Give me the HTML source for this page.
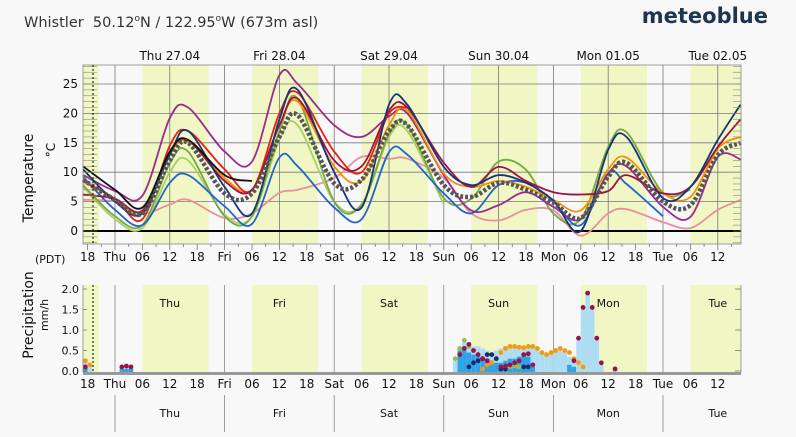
<!DOCTYPE html>
<html><head><meta charset="utf-8">
<style>
body{margin:0;background:#f8f8f8;width:796px;height:432px;overflow:hidden;font-family:"Liberation Sans","DejaVu Sans",sans-serif;}
svg text{font-family:"DejaVu Sans","Liberation Sans",sans-serif;}
</style></head><body>
<svg id="chart" width="796" height="432" xmlns="http://www.w3.org/2000/svg">
<text x="24" y="27" font-size="14.5" fill="#333">Whistler&#160; 50.12<tspan font-size="9" dy="-6">o</tspan><tspan dy="6">N / 122.95</tspan><tspan font-size="9" dy="-6">o</tspan><tspan dy="6">W (673m asl)</tspan></text>
<text x="768" y="23" font-size="21" font-weight="bold" fill="#1c3550" text-anchor="end">meteoblue</text>
<g id="g-bands"></g><g id="g-grid"></g><g id="g-precip"></g><g id="g-lines"></g><g id="g-axes"></g>
<text transform="translate(33,178) rotate(-90)" font-size="14" text-anchor="middle" fill="#111">Temperature</text>
<text transform="translate(55,150) rotate(-90)" font-size="12" text-anchor="middle" fill="#111">°C</text>
<text x="35" y="263" font-size="11" fill="#111">(PDT)</text>
<text transform="translate(33,315) rotate(-90)" font-size="14" text-anchor="middle" fill="#111">Precipitation</text>
<text transform="translate(48,315) rotate(-90)" font-size="11" text-anchor="middle" fill="#111">mm/h</text>
</svg>
<script>
const hours=[-7,0,6,12,16,24,30,36,40,48,54,60,64,72,78,84,90,96,102,108,112,120,126,132,137];
const meanT=[8.7,5.3,3,12,15,6.4,6.4,16,19.7,8.1,8.7,17,18,7.8,5.8,8.2,7,4.8,2.2,9.2,11.6,5,4.4,12.9,15];
const purpleT=[9.5,6.8,6,19.2,21,13.5,11.8,26.5,25,18,16,19.5,20,9.5,3.5,4.4,6.6,4.1,2,9.8,11,4.1,2.4,12.6,12.2];
const navyT=[10.5,5,3,13,17,7.5,3,19,24,10,4,21.5,21.5,10.9,7.8,9.5,8.2,5.2,0,13.8,16,5.6,7.5,15.5,21.5];
const redT=[8.5,5.5,2,14.5,17,10.5,7,20,23.5,13.5,10,20,21,null,null,null,null,null,null,null,null,null,null,null,null];
const orangeT=[8.5,5.5,3,13,15.2,9,7,18,22,11,8.5,18,20.5,9.8,7.5,8.5,7.5,5.3,3.5,10.5,12.5,6.4,5.8,14,16];
const darkredT=[6.2,5.5,3.5,13.5,15.5,8.5,7,18,22.5,12,11,20.5,21,11.6,7.5,10.9,8.5,6.6,6.2,6.8,9.5,6.4,7.5,14.3,19];
const blueT=[9.2,3.6,1,8.2,9.5,4.2,1.2,12.5,11,4,2,13.4,13,6.4,3,7.8,8.2,5,1,9.8,8,2.5,null,null,null];
const greenT=[7.8,2.5,1,11.5,13.5,2.5,2.5,17,22.5,5,4.5,16.5,18,5.6,5.5,11.8,10.4,3,2,14.3,16.8,6.5,7,null,null];
const lgreenT=[7.5,2,0.5,10,12,2.8,2.5,15.5,18,5,4.5,16,17,4.5,null,null,null,null,null,null,null,null,null,null,null];
const pinkT=[5.3,5,3,4.5,5.3,2.2,3,6.5,7,9,12.6,12.3,12.3,9,3,1.8,3.6,3.5,-0.8,3,3.7,1.5,0.5,3.6,5.3];
const blackT=[11,7,4,13.5,15.5,9.5,8.5,null,null,null,null,null,null,null,null,null,null,null,null,null,null,null,null,null,null];
const tempTicks=[0,5,10,15,20,25];
const precipTicks=["0.0","0.5","1.0","1.5","2.0"];
const dayNames=["Thu","Fri","Sat","Sun","Mon","Tue"];
const dayDates=["Thu 27.04","Fri 28.04","Sat 29.04","Sun 30.04","Mon 01.05","Tue 02.05"];
const precipHours=[-7,-6,1,2,3,74,75,76,77,78,79,80,81,82,83,84,85,86,87,88,89,90,91,92,93,94,95,96,97,98,99,100,101,102,103,104,105,106,109];
const precipMax=[0.3,0.15,0.1,0.1,0.1,0.25,0.55,0.7,0.6,0.6,0.6,0.55,0.5,0.45,0.5,0.55,0.6,0.6,0.6,0.6,0.6,0.6,0.6,0.55,0.45,0.4,0.45,0.5,0.5,0.45,0.35,0.2,0.75,1.5,1.95,1.5,0.75,0.15,0.1];
const precipMean=[0.1,0,0.05,0.05,0.05,0,0.5,0.55,0.45,0.4,0.35,0.3,0.3,0.25,0.2,0.2,0.25,0.3,0.3,0.35,0.4,0.35,0.1,0,0,0,0,0,0,0,0.15,0.1,0,0,0,0,0,0,0];
const orangeDotH=[-7,-6,80,81,82,83,84,85,86,87,88,89,90,91,92,93,94,95,96,97,98,99,100,101,102];
const orangeDotV=[0.25,0.15,0.05,0.15,0.2,0.3,0.45,0.55,0.6,0.6,0.58,0.57,0.6,0.6,0.55,0.45,0.4,0.45,0.5,0.55,0.5,0.45,0.3,0.2,0.1];
const redDotH=[-7,1,2,3,75,76,77,78,79,80,81,84,85,86,87,88,89,90,91,100,101,102,103,104,105,106,109];
const redDotV=[0.1,0.1,0.12,0.1,0.4,0.55,0.65,0.5,0.4,0.3,0.25,0.1,0.12,0.15,0.2,0.25,0.4,0.42,0.15,0.25,0.8,1.55,1.9,1.55,0.8,0.2,0.05];
const navyDotH=[77,78,79,80,81,82,83,84,85,89,90];
const navyDotV=[0.1,0.2,0.25,0.3,0.4,0.4,0.3,0.05,0.05,0.1,0.1];
const greenDotH=[74,75,76,77,86,87,88];
const greenDotV=[0.3,0.55,0.75,0.6,0.1,0.12,0.1];

const NS="http://www.w3.org/2000/svg";
const X0=115,PXH=109.6/24,L=83,R=741,TT=65,TB=244,PT=285,PB=373;
const xOf=h=>X0+h*PXH;
const yT=t=>231-t*5.88;
const yP=v=>371-v*41;
function mk(tag,attrs,parent){const e=document.createElementNS(NS,tag);for(const k in attrs)e.setAttribute(k,attrs[k]);document.getElementById(parent).appendChild(e);return e;}

const bandStart=[-8,6,30,54,78,102,126];const bandEnd=[-3.5,20.5,44.5,68.5,92.5,116.5,138];
for(let i=0;i<bandStart.length;i++){
  const a=Math.max(L,xOf(bandStart[i])),b=Math.min(R,xOf(bandEnd[i]));
  const r1=mk('rect',{x:a,y:TT,width:b-a,height:TB-TT,fill:'#f0f7c5'},'g-bands');
  
  
  const r2=mk('rect',{x:a,y:PT,width:b-a,height:PB-PT,fill:'#f0f7c5'},'g-bands');
  
  
}
for(let h=0;h<=132;h+=12){
  const g=mk('line',{x1:xOf(h),x2:xOf(h),y1:TT,y2:TB,stroke:'#777','stroke-width':0.8},'g-grid');
  
  
}
for(let d=0;d<6;d++){
  const g=mk('line',{x1:xOf(d*24),x2:xOf(d*24),y1:PT,y2:PB,stroke:'#888','stroke-width':0.8},'g-grid');
  
  
  const s=mk('line',{x1:xOf(d*24),x2:xOf(d*24),y1:395,y2:432,stroke:'#888','stroke-width':0.8},'g-grid');
  
  
}
tempTicks.forEach(t=>{
  const g=mk('line',{x1:L,x2:R,y1:yT(t),y2:yT(t),stroke:t===0?'#000':'#777','stroke-width':t===0?2:0.8},'g-grid');
  
  
  const lb=mk('text',{x:78,y:yT(t)+4,'font-size':12,'text-anchor':'end',fill:'#111'},'g-axes');
  
  
  lb.textContent=t;
});
for(let t=-2;t<=28;t++){
  mk('line',{x1:L,x2:97,y1:yT(t),y2:yT(t),stroke:'#888','stroke-width':0.6},'g-axes');
  mk('line',{x1:R-8,x2:R,y1:yT(t),y2:yT(t),stroke:'#888','stroke-width':0.6},'g-axes');
}
mk('rect',{x:L,y:TT,width:R-L,height:TB-TT,fill:'none',stroke:'#888','stroke-width':0.8},'g-axes');
const nowL=mk('line',{x1:93,x2:93,y1:TT,y2:TB,stroke:'#000','stroke-width':1,'stroke-dasharray':'2,2'},'g-axes');


const nowP=mk('line',{x1:93,x2:93,y1:PT,y2:PB,stroke:'#000','stroke-width':1,'stroke-dasharray':'2,2'},'g-axes');



function hourLabel(h){const m=((h%24)+24)%24;if(m===0)return dayNames[Math.round(h/24)];return String(m).padStart(2,'0');}
for(let h=-6;h<=132;h+=6){
  [[261,TB],[388,PB]].forEach(([ty,by])=>{
    const lb=mk('text',{x:xOf(h),y:ty,'font-size':12,'text-anchor':'middle',fill:'#111'},'g-axes');
    
    
    lb.textContent=hourLabel(h);
  });
}
for(let h=-6;h<=135;h+=3){
  mk('line',{x1:xOf(h),x2:xOf(h),y1:TB,y2:TB+(h%6===0?6:3),stroke:'#777','stroke-width':0.8},'g-axes');
}
for(let d=0;d<6;d++){
  const t=mk('text',{x:xOf(d*24+12),y:60,'font-size':12,'text-anchor':'middle',fill:'#111'},'g-axes');
  
  
  t.textContent=dayDates[d];
  const t2=mk('text',{x:xOf(d*24+12),y:307,'font-size':11,'text-anchor':'middle',fill:'#111'},'g-axes');
  
  
  t2.textContent=dayNames[d];
  const t3=mk('text',{x:xOf(d*24+12),y:417,'font-size':11,'text-anchor':'middle',fill:'#111'},'g-axes');
  
  
  t3.textContent=dayNames[d];
}
precipTicks.forEach(s=>{
  const v=parseFloat(s);
  const lb=mk('text',{x:79,y:yP(v)+4,'font-size':11,'text-anchor':'end',fill:'#111'},'g-axes');
  
  
  lb.textContent=s;
  mk('line',{x1:R-6,x2:R,y1:yP(v),y2:yP(v),stroke:'#777','stroke-width':0.8},'g-axes');
  mk('line',{x1:L,x2:L+4,y1:yP(v),y2:yP(v),stroke:'#777','stroke-width':0.8},'g-axes');
});
mk('line',{x1:L,x2:L,y1:PT,y2:PB,stroke:'#888','stroke-width':0.8},'g-axes');
mk('line',{x1:R,x2:R,y1:PT,y2:PB,stroke:'#888','stroke-width':0.8},'g-axes');
const base=mk('rect',{x:L,y:PB-1,width:R-L,height:3,fill:'#999'},'g-axes');



precipHours.forEach((h,i)=>{
  const x=xOf(h);
  if(precipMax[i]>0){
    const b=mk('rect',{x:x,y:yP(precipMax[i]),width:PXH,height:PB-yP(precipMax[i]),fill:'#aedcf3'},'g-precip');
    
    
  }
  if(precipMean[i]>0){
    const b=mk('rect',{x:x,y:yP(precipMean[i]),width:PXH,height:PB-yP(precipMean[i]),fill:'#2fa3e6'},'g-precip');
    
    
  }
});
function dots(H,V,col,name){
  H.forEach((h,i)=>{
    const c=mk('circle',{cx:xOf(h)+PXH/2,cy:yP(V[i]),r:2.4,fill:col},'g-lines');
    
    
  });
}
dots(orangeDotH,orangeDotV,'#f59a10','precip-dot-orange');
dots(greenDotH,greenDotV,'#90c050','precip-dot-green');
dots(navyDotH,navyDotV,'#142c6e','precip-dot-navy');
dots(redDotH,redDotV,'#99124a','precip-dot-darkred');

function smoothPath(vals){
  let segs=[],cur=[];
  vals.forEach((v,i)=>{if(v===null){if(cur.length)segs.push(cur);cur=[];}else cur.push([xOf(hours[i]),yT(v)]);});
  if(cur.length)segs.push(cur);
  let d='';
  segs.forEach(p=>{
    d+='M'+p[0][0].toFixed(1)+' '+p[0][1].toFixed(1);
    for(let i=0;i<p.length-1;i++){
      const p0=p[i-1]||p[i],p1=p[i],p2=p[i+1],p3=p[i+2]||p2;
      const c1=[p1[0]+(p2[0]-p0[0])/6,p1[1]+(p2[1]-p0[1])/6];
      const c2=[p2[0]-(p3[0]-p1[0])/6,p2[1]-(p3[1]-p1[1])/6];
      d+=' C'+c1[0].toFixed(1)+' '+c1[1].toFixed(1)+' '+c2[0].toFixed(1)+' '+c2[1].toFixed(1)+' '+p2[0].toFixed(1)+' '+p2[1].toFixed(1);
    }
  });
  return d;
}
function line(vals,col,name,w,dash){
  const p=mk('path',{d:smoothPath(vals),fill:'none',stroke:col,'stroke-width':w||1.8,'stroke-linejoin':'round'},'g-lines');
  if(dash)p.setAttribute('stroke-dasharray',dash);
  
  
}
line(pinkT,'#e8909c','temp-line-pink');
line(lgreenT,'#a8d060','temp-line-lightgreen');
line(greenT,'#78a844','temp-line-green');
line(blueT,'#2265c8','temp-line-blue');
line(purpleT,'#9a2a8e','temp-line-purple');
line(orangeT,'#f59000','temp-line-orange');
line(redT,'#e82010','temp-line-red');
line(darkredT,'#a0123e','temp-line-darkred');
line(navyT,'#15357a','temp-line-navy');
line(blackT,'#111','temp-line-black');
line(meanT,'#555','temp-line-mean',4.5,'3,2');
</script>
</body></html>
